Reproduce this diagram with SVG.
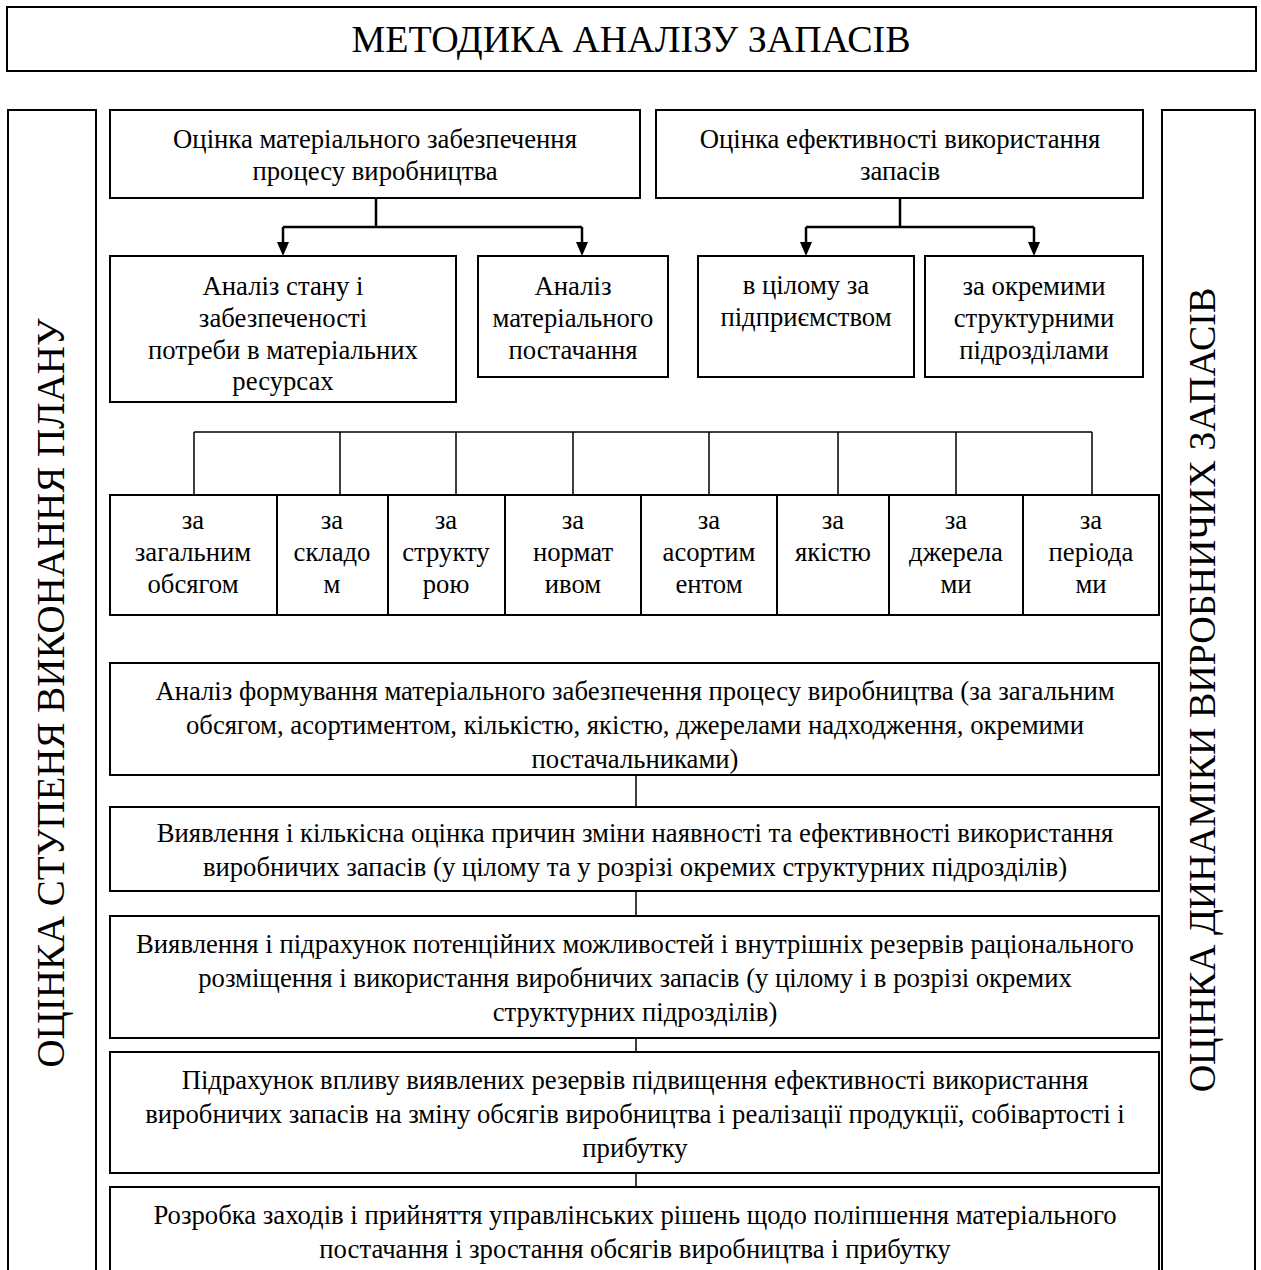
<svg xmlns="http://www.w3.org/2000/svg" width="1261" height="1270" viewBox="0 0 1261 1270">
<defs>
<style>
.box{fill:#fff;stroke:#000;stroke-width:2}
.t{font-family:"Liberation Serif","Times New Roman",serif;font-size:26.7px;fill:#000;text-anchor:middle}
.big{font-family:"Liberation Serif","Times New Roman",serif;font-size:38px;fill:#000;text-anchor:middle}
.c{fill:none;stroke:#000;stroke-width:1.5}
.ca{fill:none;stroke:#000;stroke-width:2.5}
</style>
</defs>
<rect width="1261" height="1270" fill="#fff"/>

<g id="title">
<rect class="box" x="7" y="7" width="1249" height="64" stroke-width="2.5"/>
<text class="big" x="631" y="52">МЕТОДИКА АНАЛІЗУ ЗАПАСІВ</text>
</g>

<g id="side-left">
<rect class="box" x="8" y="110" width="88" height="1190"/>
<text class="big" transform="translate(64,693) rotate(-90)" style="font-size:39px">ОЦІНКА СТУПЕНЯ ВИКОНАННЯ ПЛАНУ</text>
</g>

<g id="side-right">
<rect class="box" x="1162" y="110" width="93" height="1190"/>
<text class="big" transform="translate(1215,690) rotate(-90)">ОЦІНКА ДИНАМІКИ ВИРОБНИЧИХ ЗАПАСІВ</text>
</g>

<g id="connectors">
<path class="ca" d="M376,198 V227 M283,227 H582 M283,227 V243 M582,227 V243"/>
<path d="M277,242 L289,242 L283,256 Z M576,242 L588,242 L582,256 Z"/>
<path class="ca" d="M900,198 V227 M806,227 H1034 M806,227 V243 M1034,227 V243"/>
<path d="M800,242 L812,242 L806,256 Z M1028,242 L1040,242 L1034,256 Z"/>
<path class="c" d="M194,432 H1092 M194,432 V495 M340,432 V495 M456,432 V495 M573,432 V495 M709,432 V495 M838,432 V495 M956,432 V495 M1092,432 V495"/>
<path class="c" d="M636,775 V807 M636,891 V916 M636,1038 V1052 M636,1173 V1187"/>
</g>

<g id="box-a">
<rect class="box" x="110" y="110" width="530" height="88"/>
<text class="t" x="375" y="148">Оцінка матеріального забезпечення</text>
<text class="t" x="375" y="180">процесу виробництва</text>
</g>

<g id="box-b">
<rect class="box" x="656" y="110" width="487" height="88"/>
<text class="t" x="900" y="148">Оцінка ефективності використання</text>
<text class="t" x="900" y="180">запасів</text>
</g>

<g id="box-c">
<rect class="box" x="110" y="256" width="346" height="146"/>
<text class="t" x="283" y="295">Аналіз стану і</text>
<text class="t" x="283" y="327">забезпеченості</text>
<text class="t" x="283" y="359">потреби в матеріальних</text>
<text class="t" x="283" y="390">ресурсах</text>
</g>

<g id="box-d">
<rect class="box" x="478" y="256" width="190" height="121"/>
<text class="t" x="573" y="295">Аналіз</text>
<text class="t" x="573" y="327">матеріального</text>
<text class="t" x="573" y="359">постачання</text>
</g>

<g id="box-e">
<rect class="box" x="698" y="256" width="216" height="121"/>
<text class="t" x="806" y="294">в цілому за</text>
<text class="t" x="806" y="326">підприємством</text>
</g>

<g id="box-f">
<rect class="box" x="925" y="256" width="218" height="121"/>
<text class="t" x="1034" y="295">за окремими</text>
<text class="t" x="1034" y="327">структурними</text>
<text class="t" x="1034" y="359">підрозділами</text>
</g>

<g id="s1">
<rect class="box" x="110" y="495" width="167" height="120"/>
<text class="t" x="193" y="529">за</text>
<text class="t" x="193" y="561">загальним</text>
<text class="t" x="193" y="593">обсягом</text>
</g>
<g id="s2">
<rect class="box" x="277" y="495" width="111" height="120"/>
<text class="t" x="332" y="529">за</text>
<text class="t" x="332" y="561">складо</text>
<text class="t" x="332" y="593">м</text>
</g>
<g id="s3">
<rect class="box" x="388" y="495" width="117" height="120"/>
<text class="t" x="446" y="529">за</text>
<text class="t" x="446" y="561">структу</text>
<text class="t" x="446" y="593">рою</text>
</g>
<g id="s4">
<rect class="box" x="505" y="495" width="136" height="120"/>
<text class="t" x="573" y="529">за</text>
<text class="t" x="573" y="561">нормат</text>
<text class="t" x="573" y="593">ивом</text>
</g>
<g id="s5">
<rect class="box" x="641" y="495" width="136" height="120"/>
<text class="t" x="709" y="529">за</text>
<text class="t" x="709" y="561">асортим</text>
<text class="t" x="709" y="593">ентом</text>
</g>
<g id="s6">
<rect class="box" x="777" y="495" width="112" height="120"/>
<text class="t" x="833" y="529">за</text>
<text class="t" x="833" y="561">якістю</text>
</g>
<g id="s7">
<rect class="box" x="889" y="495" width="134" height="120"/>
<text class="t" x="956" y="529">за</text>
<text class="t" x="956" y="561">джерела</text>
<text class="t" x="956" y="593">ми</text>
</g>
<g id="s8">
<rect class="box" x="1023" y="495" width="136" height="120"/>
<text class="t" x="1091" y="529">за</text>
<text class="t" x="1091" y="561">періода</text>
<text class="t" x="1091" y="593">ми</text>
</g>

<g id="b1">
<rect class="box" x="110" y="663" width="1049" height="112"/>
<text class="t" x="635" y="700">Аналіз формування матеріального забезпечення процесу виробництва (за загальним</text>
<text class="t" x="635" y="734">обсягом, асортиментом, кількістю, якістю, джерелами надходження, окремими</text>
<text class="t" x="635" y="768">постачальниками)</text>
</g>
<g id="b2">
<rect class="box" x="110" y="807" width="1049" height="84"/>
<text class="t" x="635" y="842">Виявлення і кількісна оцінка причин зміни наявності та ефективності використання</text>
<text class="t" x="635" y="876">виробничих запасів (у цілому та у розрізі окремих структурних підрозділів)</text>
</g>
<g id="b3">
<rect class="box" x="110" y="916" width="1049" height="122"/>
<text class="t" x="635" y="953">Виявлення і підрахунок потенційних можливостей і внутрішніх резервів раціонального</text>
<text class="t" x="635" y="987">розміщення і використання виробничих запасів (у цілому і в розрізі окремих</text>
<text class="t" x="635" y="1021">структурних підрозділів)</text>
</g>
<g id="b4">
<rect class="box" x="110" y="1052" width="1049" height="121"/>
<text class="t" x="635" y="1089">Підрахунок впливу виявлених резервів підвищення ефективності використання</text>
<text class="t" x="635" y="1123">виробничих запасів на зміну обсягів виробництва і реалізації продукції, собівартості і</text>
<text class="t" x="635" y="1157">прибутку</text>
</g>
<g id="b5">
<rect class="box" x="110" y="1187" width="1049" height="110"/>
<text class="t" x="635" y="1224">Розробка заходів і прийняття управлінських рішень щодо поліпшення матеріального</text>
<text class="t" x="635" y="1258">постачання і зростання обсягів виробництва і прибутку</text>
</g>
</svg>
